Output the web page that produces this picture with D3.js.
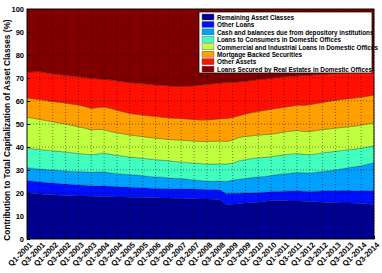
<!DOCTYPE html>
<html>
<head>
<meta charset="utf-8">
<script src="https://cdn.jsdelivr.net/npm/d3@7"></script>
<style>
  body { margin: 0; background: #fff; }
  svg { display: block; font-family: "Liberation Sans", Arial, sans-serif; font-weight: bold; }
</style>
</head>
<body>
<div id="chart"></div>
<script>
'use strict';

// quarters Q1-2001 .. Q3-2014 (55 points), labels every second quarter
const quarters = [];
for (let yr = 2001; yr <= 2014; yr++) {
    for (let q = 1; q <= 4; q++) {
        if (yr === 2014 && q === 4) break;
        quarters.push('Q' + q + '-' + yr);
    }
}

const seriesNames = [
    'Remaining Asset Classes',
    'Other Loans',
    'Cash and balances due from depository institutions',
    'Loans to Consumers in Domestic Offices',
    'Commercial and Industrial Loans in Domestic Offices',
    'Mortgage Backed Securities',
    'Other Assets',
    'Loans Secured by Real Estates in Domestic Offices'
];

const remaining = [20.0, 19.8, 19.6, 19.4, 19.2, 19.0, 18.9, 18.8, 18.7, 18.7, 18.6, 18.5, 18.4, 18.4, 18.3, 18.3,
    18.2, 18.1, 18.0, 18.0, 17.9, 17.8, 17.8, 17.7, 17.7, 17.6, 17.5, 17.4, 17.4, 17.3, 17.2, 15.0,
    15.1, 15.3, 15.6, 15.8, 16.0, 16.3, 16.7, 16.7, 16.6, 16.5, 16.5, 16.4, 16.3, 16.2, 16.0, 15.9,
    15.8, 15.7, 15.6, 15.5, 15.4, 15.2, 15.0];
const otherLoans = [5.4, 5.3, 5.2, 5.2, 5.1, 5.1, 5.0, 4.9, 4.8, 4.7, 4.6, 4.6, 4.6, 4.5, 4.5, 4.4,
    4.3, 4.3, 4.3, 4.1, 4.1, 4.2, 4.1, 4.2, 4.1, 4.1, 4.2, 4.2, 4.1, 4.2, 4.2, 4.8,
    4.8, 4.6, 4.4, 4.3, 4.2, 4.0, 3.9, 4.0, 4.2, 4.4, 4.5, 4.4, 4.3, 4.6, 4.9, 5.1,
    5.2, 5.4, 5.5, 5.5, 5.6, 5.8, 6.0];
const cash = [5.6, 5.6, 5.6, 5.6, 5.7, 5.7, 5.7, 5.7, 5.8, 5.8, 5.8, 6.0, 6.2, 5.8, 5.6, 5.5,
    5.5, 5.4, 5.2, 5.1, 5.0, 4.9, 4.7, 4.5, 4.5, 4.3, 4.0, 3.8, 3.7, 3.6, 3.8, 5.2,
    5.7, 6.1, 6.3, 6.6, 6.8, 6.9, 7.0, 7.3, 7.5, 7.7, 7.9, 8.0, 8.0, 8.2, 8.5, 8.7,
    9.0, 9.4, 9.9, 10.4, 10.8, 11.5, 12.2];
const consumer = [8.4, 8.5, 8.5, 8.4, 8.4, 8.3, 8.2, 8.1, 7.9, 7.7, 7.6, 7.9, 8.2, 8.1, 8.0, 7.8,
    7.6, 7.6, 7.6, 7.6, 7.5, 7.4, 7.4, 7.3, 7.2, 7.2, 7.3, 7.4, 7.4, 7.5, 7.5, 7.6,
    7.4, 8.0, 8.2, 8.3, 8.3, 8.3, 8.2, 8.2, 8.3, 8.3, 8.3, 8.0, 8.0, 8.0, 8.1, 8.1,
    8.1, 8.0, 7.8, 7.7, 7.7, 7.5, 7.3];
const commercial = [13.5, 13.3, 13.1, 12.9, 12.6, 12.4, 12.2, 11.9, 11.6, 11.3, 10.9, 10.6, 10.2, 9.9, 9.8, 9.7,
    9.6, 9.5, 9.4, 9.4, 9.3, 9.3, 9.3, 9.4, 9.5, 9.6, 9.6, 9.6, 9.8, 9.9, 9.9, 9.8,
    10.0, 10.2, 10.1, 9.9, 9.9, 9.9, 9.8, 9.8, 9.9, 10.0, 10.0, 10.0, 10.1, 10.2, 10.1, 10.1,
    10.1, 10.0, 10.0, 10.0, 10.0, 10.0, 10.0];
const mbs = [8.5, 8.5, 8.6, 8.7, 8.8, 9.0, 9.1, 9.3, 9.5, 9.4, 9.3, 9.6, 9.8, 10.1, 9.8, 9.6,
    9.4, 9.3, 9.4, 9.4, 9.5, 9.4, 9.4, 9.4, 9.4, 9.4, 9.4, 9.4, 9.4, 9.5, 9.7, 10.0,
    9.8, 9.4, 9.8, 10.1, 10.3, 10.6, 10.8, 10.9, 10.8, 10.8, 11.0, 11.3, 11.7, 11.7, 11.8, 12.0,
    12.1, 12.2, 12.2, 12.2, 12.2, 12.1, 12.1];
const otherAssets = [11.1, 11.7, 12.2, 12.1, 12.0, 12.0, 12.1, 12.2, 12.3, 12.6, 13.1, 12.5, 12.0, 12.4, 12.8, 13.1,
    13.4, 13.6, 13.7, 13.7, 13.7, 13.8, 13.9, 13.9, 13.9, 14.2, 14.6, 15.2, 15.5, 15.5, 15.5, 15.6,
    15.4, 14.8, 14.2, 14.0, 13.8, 13.6, 13.6, 13.4, 13.3, 13.1, 12.8, 13.0, 12.9, 12.6, 12.3, 11.9,
    11.7, 11.5, 11.4, 11.3, 11.1, 10.9, 10.6];
const realEstate = [27.5, 27.3, 27.2, 27.7, 28.2, 28.5, 28.8, 29.1, 29.4, 29.8, 30.1, 30.3, 30.6, 30.8, 31.2, 31.6,
    32.0, 32.2, 32.4, 32.7, 33.0, 33.2, 33.4, 33.6, 33.7, 33.6, 33.4, 33.0, 32.7, 32.5, 32.2, 32.0,
    31.8, 31.6, 31.4, 31.0, 30.7, 30.4, 30.0, 29.7, 29.4, 29.2, 29.0, 28.9, 28.7, 28.5, 28.3, 28.2,
    28.0, 27.8, 27.6, 27.4, 27.2, 27.0, 26.8];

const seriesValues = [remaining, otherLoans, cash, consumer, commercial, mbs, otherAssets, realEstate];
const colors = ['#00008f', '#0010ff', '#00a0ff', '#40ffbf', '#bfff40', '#ff9f00', '#ff1000', '#800000'];
const yTicks = [0, 10, 20, 30, 40, 50, 60, 70, 80, 90, 100];

const width  = 382;
const height = 273;
const margin = {left: 27, right: 8, top: 9, bottom: 34};

// table for d3.stack: one row per quarter
const table = quarters.map(function(q, i) {
    let row = {idx: i};
    seriesNames.forEach(function(name, k) { row[name] = seriesValues[k][i]; });
    return row;
});

const x = d3.scaleLinear().domain([0, quarters.length - 1]).range([margin.left, width - margin.right]);
const y = d3.scaleLinear().domain([0, 100]).range([height - margin.bottom, margin.top]);

const svg = d3.select('#chart').append('svg')
    .attr('width', width)
    .attr('height', height);

const stacked = d3.stack().keys(seriesNames)(table);

const area = d3.area()
    .x(function(d) { return x(d.data.idx); })
    .y0(function(d) { return y(d[0]); })
    .y1(function(d) { return y(d[1]); });

svg.append('g').selectAll('path')
    .data(stacked)
    .enter()
    .append('path')
    .attr('d', area)
    .attr('fill', function(d, i) { return colors[i]; })
    .attr('stroke', 'rgba(0,0,0,0.35)')
    .attr('stroke-width', 0.7);

// dotted grid on top of the areas
const tickIdx = d3.range(0, quarters.length, 2);
const grid = svg.append('g')
    .attr('stroke', '#000')
    .attr('stroke-width', 0.6)
    .attr('stroke-dasharray', '1,2')
    .attr('opacity', 0.75);
grid.selectAll('line.h')
    .data(yTicks.slice(1, -1))
    .enter().append('line')
    .attr('x1', x(0)).attr('x2', x(quarters.length - 1))
    .attr('y1', function(d) { return y(d); }).attr('y2', function(d) { return y(d); });
grid.selectAll('line.v')
    .data(tickIdx.slice(1))
    .enter().append('line')
    .attr('x1', function(d) { return x(d); }).attr('x2', function(d) { return x(d); })
    .attr('y1', y(0)).attr('y2', y(100));

// box
svg.append('rect')
    .attr('x', x(0)).attr('y', y(100))
    .attr('width', x(quarters.length - 1) - x(0))
    .attr('height', y(0) - y(100))
    .attr('fill', 'none')
    .attr('stroke', '#000')
    .attr('stroke-width', 0.8);

// y axis
const yAxis = svg.append('g')
    .attr('transform', 'translate(' + margin.left + ',0)')
    .call(d3.axisLeft(y).tickValues(yTicks).tickSize(-3).tickPadding(3));
yAxis.select('.domain').remove();
yAxis.selectAll('text')
    .attr('font-size', 7.5)
    .attr('font-family', '"Liberation Sans", Arial, sans-serif')
    .attr('font-weight', 'bold')
    .attr('fill', '#000');

// x axis
const xAxis = svg.append('g')
    .attr('transform', 'translate(0,' + y(0) + ')')
    .call(d3.axisBottom(x).tickValues(tickIdx).tickSize(-3).tickFormat(function(d) { return quarters[d]; }));
xAxis.select('.domain').remove();
xAxis.selectAll('text')
    .attr('font-size', 7.8)
    .attr('font-family', '"Liberation Sans", Arial, sans-serif')
    .attr('font-weight', 'bold')
    .attr('fill', '#000')
    .attr('text-anchor', 'end')
    .attr('transform', 'translate(2,3) rotate(-45)')
    .attr('x', 0)
    .attr('y', 0)
    .attr('dy', '0.6em');

// y axis title
svg.append('text')
    .attr('transform', 'translate(10,' + ((y(0) + y(100)) / 2 + 6) + ') rotate(-90)')
    .attr('text-anchor', 'middle')
    .attr('font-size', 8.3)
    .attr('fill', '#000')
    .text('Contribution to Total Capitalization of Asset Classes (%)');

// legend, drawn top to bottom in series order
const legend = svg.append('g').attr('transform', 'translate(199,12)');
legend.append('rect')
    .attr('width', 173).attr('height', 61)
    .attr('fill', '#fff')
    .attr('stroke', '#000')
    .attr('stroke-width', 0.7);
const items = legend.selectAll('g.item')
    .data(seriesNames)
    .enter().append('g')
    .attr('transform', function(d, i) { return 'translate(3,' + (2 + i * 7.45) + ')'; });
items.append('rect')
    .attr('width', 12).attr('height', 6)
    .attr('fill', function(d, i) { return colors[i]; })
    .attr('stroke', '#555')
    .attr('stroke-width', 0.4);
items.append('text')
    .attr('x', 15).attr('y', 5.7)
    .attr('font-size', 6.35)
    .attr('fill', '#000')
    .text(function(d) { return d; });
</script>
</body>
</html>
